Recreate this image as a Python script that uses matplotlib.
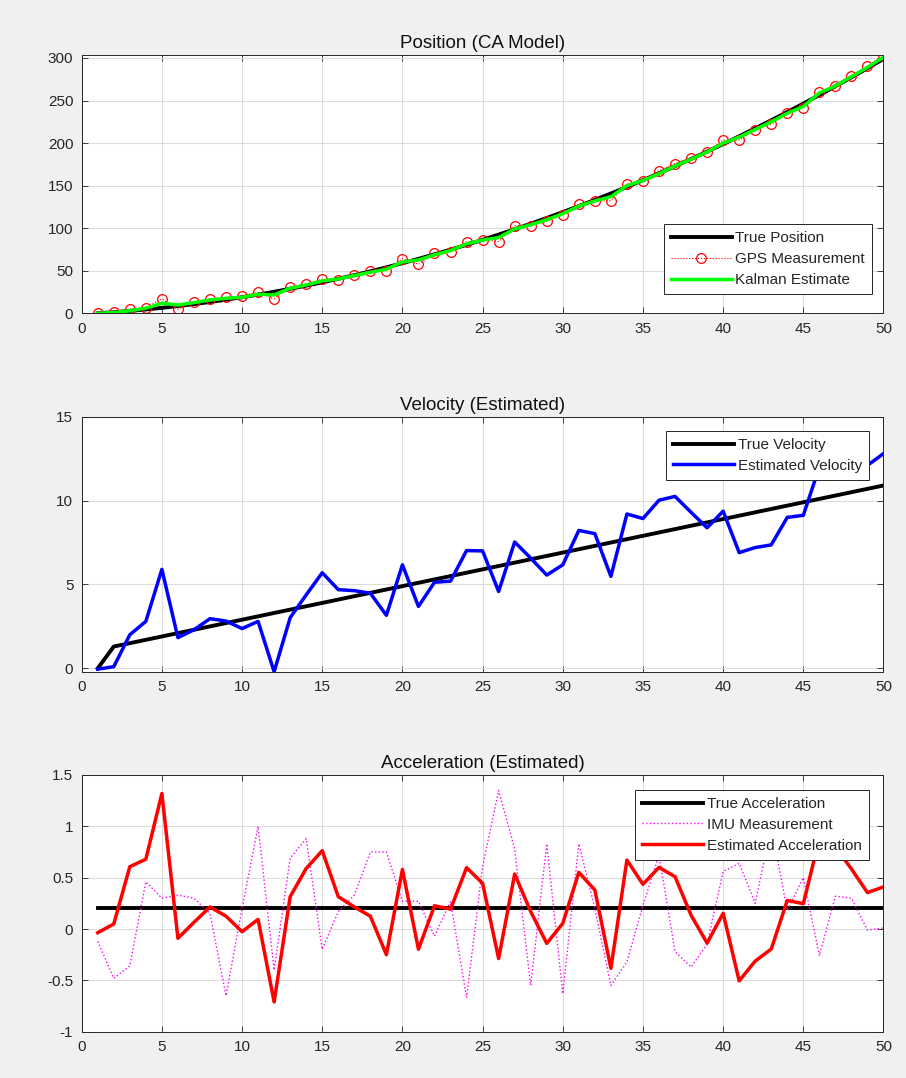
import numpy as np
import matplotlib.pyplot as plt
from matplotlib.ticker import FuncFormatter

plt.rcParams['font.family'] = ['Liberation Sans', 'DejaVu Sans']

# time steps
t = list(range(1, 51))

# position panel
true_pos = [0, 1.3, 2.8, 4.5, 6.4, 8.5, 10.8, 13.3, 16.0, 18.9,
            22.0, 25.3, 28.8, 32.5, 36.4, 40.5, 44.8, 49.3, 54.0, 58.9,
            64.0, 69.3, 74.8, 80.5, 86.4, 92.5, 98.8, 105.3, 112.0, 118.9,
            126.0, 133.3, 140.8, 148.5, 156.4, 164.5, 172.8, 181.3, 190.0, 198.9,
            208.0, 217.3, 226.8, 236.5, 246.4, 256.5, 266.8, 277.3, 288.0, 298.9]
gps_pos = [0, 2, 5, 6.7, 16.9, 4.7, 13, 16.9, 18.8, 20.4,
           24.7, 16.9, 31.4, 34.1, 40, 39.6, 45, 49.8, 50.2, 64.3,
           57.6, 70.6, 72.5, 83.9, 86.2, 84.3, 103, 103, 108, 115.7,
           128, 132, 132.3, 152.4, 155, 167.7, 176, 182.7, 189.8, 203.5,
           203.5, 215.4, 222, 235, 241.7, 260, 267.3, 279, 290, 303.5]
kf_pos = [0, 1, 3, 6, 11.8, 9.8, 12.5, 15.7, 17.6, 18.8,
          22.4, 21.6, 29.4, 33.3, 38, 40.4, 44.3, 48.2, 51.8, 60.4,
          62.7, 68.6, 73.7, 81.6, 86, 89, 99, 104, 110, 117,
          126, 132, 137, 150, 156, 164, 173, 181, 189.5, 200,
          207, 216, 225, 235, 243, 259, 267, 278, 289, 301]

# velocity panel (true velocity is a straight line after step 2)
true_vel_t = [1, 2, 50]
true_vel = [0, 1.3, 10.9]
est_vel = [-0.05, 0.1, 2.0, 2.8, 5.9, 1.83, 2.3, 2.96, 2.82, 2.37,
           2.8, -0.2, 3.02, 4.38, 5.7, 4.69, 4.63, 4.48, 3.16, 6.17,
           3.69, 5.13, 5.2, 7.02, 7.0, 4.58, 7.53, 6.57, 5.56, 6.17,
           8.22, 8.03, 5.48, 9.2, 8.93, 10.02, 10.25, 9.3, 8.38, 9.37,
           6.9, 7.2, 7.36, 9.0, 9.12, 12.0, 11.8, 11.5, 12.1, 12.8]

# acceleration panel
true_acc_t = [1, 50]
true_acc = [0.2, 0.2]
imu_acc = [-0.12, -0.48, -0.36, 0.46, 0.3, 0.33, 0.3, 0.15, -0.65, 0.2,
           1.0, -0.4, 0.69, 0.88, -0.2, 0.17, 0.33, 0.75, 0.75, 0.27,
           0.27, -0.07, 0.27, -0.67, 0.61, 1.35, 0.78, -0.55, 0.83, -0.63,
           0.83, 0.2, -0.55, -0.32, 0.23, 0.72, -0.22, -0.37, -0.15, 0.56,
           0.64, 0.25, 1.0, 0.18, 0.5, -0.26, 0.32, 0.3, -0.01, 0.01]
est_acc = [-0.036, 0.049, 0.607, 0.68, 1.32, -0.09, 0.065, 0.215, 0.125, -0.026,
           0.094, -0.71, 0.315, 0.59, 0.763, 0.315, 0.215, 0.125, -0.25, 0.58,
           -0.197, 0.227, 0.193, 0.598, 0.445, -0.288, 0.536, 0.17, -0.14, 0.055,
           0.552, 0.38, -0.383, 0.672, 0.435, 0.6, 0.51, 0.135, -0.137, 0.153,
           -0.505, -0.312, -0.195, 0.278, 0.247, 0.88, 0.8, 0.585, 0.355, 0.41]

xticks = list(range(0, 51, 5))

W, H = 906, 1078
fig = plt.figure(figsize=(W / 100, H / 100), dpi=100, facecolor='#F0F0F0')

def make_ax(top_px, bottom_px):
    left, right = 81.7, 883.5
    return fig.add_axes([left / W, 1 - bottom_px / H, (right - left) / W, (bottom_px - top_px) / H])

def style(ax, title):
    ax.set_xlim(0, 50)
    ax.set_xticks(xticks)
    ax.grid(True, color='#DCDCDC', linewidth=0.8)
    ax.set_axisbelow(True)
    ax.tick_params(direction='in', top=True, right=True, length=4, width=0.6,
                   colors='#262626', labelsize=11, pad=6)
    for s in ax.spines.values():
        s.set_color('#262626')
        s.set_linewidth(0.7)
    ax.yaxis.set_major_formatter(FuncFormatter(lambda v, p: '{:g}'.format(v)))
    ax.set_title(title, fontsize=13.5, color='#111111', pad=5)

def legend(ax, loc, anchor):
    leg = ax.legend(loc=loc, bbox_to_anchor=anchor, fontsize=11, fancybox=False,
                    edgecolor='#262626', framealpha=1, handlelength=4.0,
                    borderpad=0.45, labelspacing=0.45, handletextpad=0.25, borderaxespad=0)
    leg.get_frame().set_linewidth(0.7)
    for txt in leg.get_texts():
        txt.set_color('#262626')

# Position
ax1 = make_ax(55, 313.3)
ax1.plot(t, true_pos, color='k', linewidth=2.8, label='True Position')
ax1.plot(t, gps_pos, 'r:o', linewidth=0.8, markersize=7, markerfacecolor='none',
         markeredgewidth=0.9, label='GPS Measurement')
ax1.plot(t, kf_pos, color='#00FF00', linewidth=2.5, label='Kalman Estimate')
ax1.set_ylim(0, 303.5)
ax1.set_yticks(range(0, 301, 50))
style(ax1, 'Position (CA Model)')
legend(ax1, 'lower right', ((872 - 81.7) / 801.8, (313.3 - 294) / 258.3))

# Velocity
ax2 = make_ax(416.7, 671.7)
ax2.plot(true_vel_t, true_vel, color='k', linewidth=2.8, label='True Velocity')
ax2.plot(t, est_vel, color='#0000FF', linewidth=2.5, label='Estimated Velocity')
ax2.set_ylim(-0.2, 15)
ax2.set_yticks([0, 5, 10, 15])
style(ax2, 'Velocity (Estimated)')
legend(ax2, 'upper right', ((869 - 81.7) / 801.8, 1 - (431 - 416.7) / 255))

# Acceleration
ax3 = make_ax(775, 1031.7)
ax3.plot(true_acc_t, true_acc, color='k', linewidth=2.8, label='True Acceleration')
ax3.plot(t, imu_acc, color='#FF00FF', linestyle=':', linewidth=1.0, label='IMU Measurement')
ax3.plot(t, est_acc, color='#FF0000', linewidth=2.5, label='Estimated Acceleration')
ax3.set_ylim(-1, 1.5)
ax3.set_yticks([-1, -0.5, 0, 0.5, 1, 1.5])
style(ax3, 'Acceleration (Estimated)')
legend(ax3, 'upper right', ((869 - 81.7) / 801.8, 1 - (790 - 775) / 256.7))

plt.savefig('out.png', dpi=100, facecolor=fig.get_facecolor())
